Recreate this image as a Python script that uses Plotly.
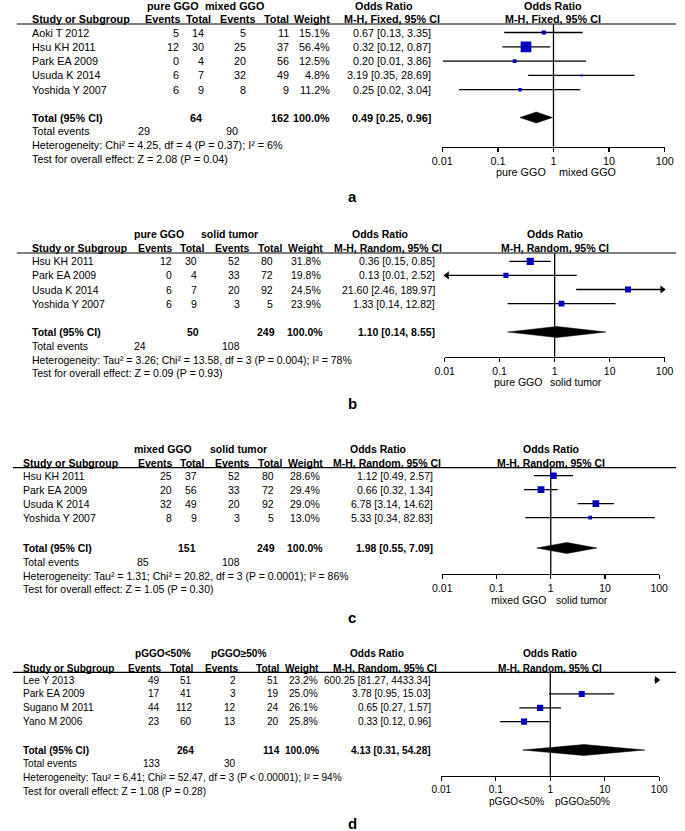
import plotly.graph_objects as go

W, H = 685, 831
FONT = "Liberation Sans, Arial, Helvetica, sans-serif"
BLUE = "#0000C8"

# ---------------- data ----------------
# panel a
a_groups = ["pure GGO", "mixed GGO"]
a_method = "M-H, Fixed, 95% CI"
a_studies = ["Aoki T 2012", "Hsu KH 2011", "Park EA 2009", "Usuda K 2014", "Yoshida Y 2007"]
a_ev1 = [5, 12, 0, 6, 6]
a_tot1 = [14, 30, 4, 7, 9]
a_ev2 = [5, 25, 20, 32, 8]
a_tot2 = [11, 37, 56, 49, 9]
a_weight = [15.1, 56.4, 12.5, 4.8, 11.2]
a_or = [0.67, 0.32, 0.20, 3.19, 0.25]
a_lo = [0.13, 0.12, 0.0102, 0.35, 0.02]
a_hi = [3.35, 0.87, 3.86, 28.69, 3.04]
a_sum = [0.49, 0.25, 0.96]
a_totals = [64, 162]
a_events = [29, 90]
a_het = "Heterogeneity: Chi² = 4.25, df = 4 (P = 0.37); I² = 6%"
a_test = "Test for overall effect: Z = 2.08 (P = 0.04)"

# panel b
b_groups = ["pure GGO", "solid tumor"]
b_method = "M-H, Random, 95% CI"
b_studies = ["Hsu KH 2011", "Park EA 2009", "Usuda K 2014", "Yoshida Y 2007"]
b_ev1 = [12, 0, 6, 6]
b_tot1 = [30, 4, 7, 9]
b_ev2 = [52, 33, 20, 3]
b_tot2 = [80, 72, 92, 5]
b_weight = [31.8, 19.8, 24.5, 23.9]
b_or = [0.36, 0.13, 21.60, 1.33]
b_lo = [0.15, 0.0068, 2.46, 0.14]
b_hi = [0.85, 2.52, 189.97, 12.82]
b_sum = [1.10, 0.14, 8.55]
b_totals = [50, 249]
b_events = [24, 108]
b_het = "Heterogeneity: Tau² = 3.26; Chi² = 13.58, df = 3 (P = 0.004); I² = 78%"
b_test = "Test for overall effect: Z = 0.09 (P = 0.93)"

# panel c
c_groups = ["mixed GGO", "solid tumor"]
c_method = "M-H, Random, 95% CI"
c_studies = ["Hsu KH 2011", "Park EA 2009", "Usuda K 2014", "Yoshida Y 2007"]
c_ev1 = [25, 20, 32, 8]
c_tot1 = [37, 56, 49, 9]
c_ev2 = [52, 33, 20, 3]
c_tot2 = [80, 72, 92, 5]
c_weight = [28.6, 29.4, 29.0, 13.0]
c_or = [1.12, 0.66, 6.78, 5.33]
c_lo = [0.49, 0.32, 3.14, 0.34]
c_hi = [2.57, 1.34, 14.62, 82.83]
c_sum = [1.98, 0.55, 7.09]
c_totals = [151, 249]
c_events = [85, 108]
c_het = "Heterogeneity: Tau² = 1.31; Chi² = 20.82, df = 3 (P = 0.0001); I² = 86%"
c_test = "Test for overall effect: Z = 1.05 (P = 0.30)"

# panel d
d_groups = ["pGGO<50%", "pGGO≥50%"]
d_method = "M-H, Random, 95% CI"
d_studies = ["Lee Y 2013", "Park EA 2009", "Sugano M 2011", "Yano M 2006"]
d_ev1 = [49, 17, 44, 23]
d_tot1 = [51, 41, 112, 60]
d_ev2 = [2, 3, 12, 13]
d_tot2 = [51, 19, 24, 20]
d_weight = [23.2, 25.0, 26.1, 25.8]
d_or = [600.25, 3.78, 0.65, 0.33]
d_lo = [81.27, 0.95, 0.27, 0.12]
d_hi = [4433.34, 15.03, 1.57, 0.96]
d_sum = [4.13, 0.31, 54.28]
d_totals = [264, 114]
d_events = [133, 30]
d_het = "Heterogeneity: Tau² = 6.41; Chi² = 52.47, df = 3 (P < 0.00001); I² = 94%"
d_test = "Test for overall effect: Z = 1.08 (P = 0.28)"

tick_vals = [0.01, 0.1, 1, 10, 100]
tick_text = ["0.01", "0.1", "1", "10", "100"]

panels = [
    dict(label="a", groups=a_groups, method=a_method, studies=a_studies, ev1=a_ev1, tot1=a_tot1,
         ev2=a_ev2, tot2=a_tot2, weight=a_weight, orr=a_or, lo=a_lo, hi=a_hi, summ=a_sum,
         totals=a_totals, events=a_events, het=a_het, test=a_test),
    dict(label="b", groups=b_groups, method=b_method, studies=b_studies, ev1=b_ev1, tot1=b_tot1,
         ev2=b_ev2, tot2=b_tot2, weight=b_weight, orr=b_or, lo=b_lo, hi=b_hi, summ=b_sum,
         totals=b_totals, events=b_events, het=b_het, test=b_test),
    dict(label="c", groups=c_groups, method=c_method, studies=c_studies, ev1=c_ev1, tot1=c_tot1,
         ev2=c_ev2, tot2=c_tot2, weight=c_weight, orr=c_or, lo=c_lo, hi=c_hi, summ=c_sum,
         totals=c_totals, events=c_events, het=c_het, test=c_test),
    dict(label="d", groups=d_groups, method=d_method, studies=d_studies, ev1=d_ev1, tot1=d_tot1,
         ev2=d_ev2, tot2=d_tot2, weight=d_weight, orr=d_or, lo=d_lo, hi=d_hi, summ=d_sum,
         totals=d_totals, events=d_events, het=d_het, test=d_test),
]

# ---------------- layout geometry (pixels) ----------------
geo = [
    dict(fs=10.8, grp=6, col=19, line=24, line_x0=6, row0=32.5, pitch=14.3, total=117.5, axis=146.7,
         letter=196, xdom=(444.3, 673.3), name_x=20.7, grp_c=(167, 230),
         hdr_r=(175, 207, 252, 287, 330), val_r=(174, 200, 243, 287, 330), tot_r=(198, 287, 330),
         ev_r=(144, 235), or_c=(384, 392), ci_r=434, sub=(-7, 5)),
    dict(fs=10.5, grp=234, col=248, line=253, line_x0=6, row0=261.3, pitch=14.1, total=332, axis=356.7,
         letter=403, xdom=(446.7, 673.3), name_x=20.7, grp_c=(152.5, 225),
         hdr_r=(168, 200, 247, 280, 322), val_r=(167, 193, 237, 271, 320), tot_r=(195, 273, 322),
         ev_r=(140, 237), or_c=(380, 388), ci_r=438, sub=(-12, -6)),
    dict(fs=10.5, grp=449.3, col=463.3, line=467.7, line_x0=2, row0=475.7, pitch=14.0, total=548, axis=574,
         letter=617, xdom=(444.3, 667.7), name_x=11.7, grp_c=(156.7, 234.7),
         hdr_r=(168, 200, 247, 280, 322), val_r=(167, 193, 237, 272, 319), tot_r=(192, 273, 322),
         ev_r=(143, 237), or_c=(377.6, 387), ci_r=436, sub=(-4, 4)),
    dict(fs=10.1, grp=653.5, col=668, line=672.3, line_x0=2, row0=680, pitch=13.9, total=750, axis=775.7,
         letter=823, xdom=(443.3, 667.7), name_x=11.7, grp_c=(157, 234.5),
         hdr_r=(156, 190, 235, 278, 318), val_r=(154, 187, 233, 277, 317), tot_r=(190, 278, 318),
         ev_r=(155, 233), or_c=(377.5, 385), ci_r=434, sub=(-5, 4)),
]


def esc(s):
    return s.replace("<", "&lt;").replace(">", "&gt;")


fig = go.Figure()
annotations = []
shapes = []


def text(x, y, s, anchor="left", bold=False, size=10.5):
    s = esc(s)
    if bold:
        s = "<b>" + s + "</b>"
    annotations.append(dict(x=x / W, y=y, xref="paper", yref="y", text=s, showarrow=False,
                            xanchor=anchor, yanchor="middle", font=dict(family=FONT, size=size, color="black"),
                            borderpad=0))


layout_axes = {}
for i, (p, g) in enumerate(zip(panels, geo)):
    ax = "x" if i == 0 else f"x{i + 1}"
    axkey = "xaxis" if i == 0 else f"xaxis{i + 1}"
    fs = g["fs"]
    x0, x1 = g["xdom"]
    dec = (x1 - x0) / 4.0
    xone = (x0 + x1) / 2.0
    layout_axes[axkey] = dict(
        type="log", domain=[x0 / W, x1 / W], range=[-2, 2], anchor="free", position=1 - g["axis"] / H,
        showline=True, linecolor="black", linewidth=1.3, ticks="outside", ticklen=4, tickwidth=1.3,
        tickcolor="black", tickvals=tick_vals, ticktext=tick_text, showgrid=False, zeroline=False,
        tickfont=dict(family=FONT, size=fs, color="black"), fixedrange=True)

    # header texts
    text(g["grp_c"][0], g["grp"], p["groups"][0], "center", bold=True, size=fs)
    text(g["grp_c"][1], g["grp"], p["groups"][1], "center", bold=True, size=fs)
    text(g["name_x"], g["col"], "Study or Subgroup", "left", bold=True, size=fs)
    for xr, s in zip(g["hdr_r"], ["Events", "Total", "Events", "Total", "Weight"]):
        text(xr, g["col"], s, "right", bold=True, size=fs)
    text(g["or_c"][0], g["grp"], "Odds Ratio", "center", bold=True, size=fs)
    text(g["or_c"][1], g["col"], p["method"], "center", bold=True, size=fs)
    text(xone, g["grp"], "Odds Ratio", "center", bold=True, size=fs)
    text(xone, g["col"], p["method"], "center", bold=True, size=fs)
    shapes.append(dict(type="line", xref="paper", yref="y", x0=g["line_x0"] / W, x1=1.0,
                       y0=g["line"], y1=g["line"], line=dict(color="black", width=1.2)))

    n = len(p["studies"])
    ys = [g["row0"] + k * g["pitch"] for k in range(n)]
    for k in range(n):
        y = ys[k]
        text(g["name_x"], y, p["studies"][k], "left", size=fs)
        vals = [str(p["ev1"][k]), str(p["tot1"][k]), str(p["ev2"][k]), str(p["tot2"][k]),
                f"{p['weight'][k]:.1f}%"]
        for xr, s in zip(g["val_r"], vals):
            text(xr, y, s, "right", size=fs)
        text(g["ci_r"], y, f"{p['orr'][k]:.2f} [{p['lo'][k]:.2f}, {p['hi'][k]:.2f}]", "right", size=fs)

    # totals
    yt = g["total"]
    text(g["name_x"], yt, "Total (95% CI)", "left", bold=True, size=fs)
    text(g["tot_r"][0], yt, str(p["totals"][0]), "right", bold=True, size=fs)
    text(g["tot_r"][1], yt, str(p["totals"][1]), "right", bold=True, size=fs)
    text(g["tot_r"][2], yt, "100.0%", "right", bold=True, size=fs)
    s0, s1, s2 = p["summ"]
    text(g["ci_r"], yt, f"{s0:.2f} [{s1:.2f}, {s2:.2f}]", "right", bold=True, size=fs)
    text(g["name_x"], yt + 13.8, "Total events", "left", size=fs)
    text(g["ev_r"][0], yt + 13.8, str(p["events"][0]), "right", size=fs)
    text(g["ev_r"][1], yt + 13.8, str(p["events"][1]), "right", size=fs)
    text(g["name_x"], yt + 27.6, p["het"], "left", size=fs)
    text(g["name_x"], yt + 41.4, p["test"], "left", size=fs)

    # axis subtitles and panel letter
    text(xone + g["sub"][0], g["axis"] + 25.5, p["groups"][0], "right", size=fs)
    text(xone + g["sub"][1], g["axis"] + 25.5, p["groups"][1], "left", size=fs)
    text(346, g["letter"], p["label"], "left", bold=True, size=15)

    # vertical line of no effect
    fig.add_trace(go.Scatter(x=[1, 1], y=[g["line"], g["axis"]], mode="lines",
                             line=dict(color="black", width=1.3), xaxis=ax, yaxis="y",
                             hoverinfo="skip", showlegend=False))

    # CI lines, squares, arrows
    tip = 10 ** (-2.5 / dec)
    for k in range(n):
        lo, hi, orr, y = p["lo"][k], p["hi"][k], p["orr"][k], ys[k]
        a = max(lo, 0.01)
        b = min(hi, 100)
        fig.add_trace(go.Scatter(x=[a, b], y=[y, y], mode="lines", line=dict(color="black", width=1.3),
                                 xaxis=ax, yaxis="y", hoverinfo="skip", showlegend=False))
        if hi > 100:
            fig.add_trace(go.Scatter(x=[100 * tip], y=[y], mode="markers",
                                     marker=dict(symbol="triangle-right", size=7, color="black"),
                                     xaxis=ax, yaxis="y", cliponaxis=False, hoverinfo="skip",
                                     showlegend=False))
        if lo < 0.01:
            fig.add_trace(go.Scatter(x=[0.01 / tip], y=[y], mode="markers",
                                     marker=dict(symbol="triangle-left", size=7, color="black"),
                                     xaxis=ax, yaxis="y", cliponaxis=False, hoverinfo="skip",
                                     showlegend=False))
        if 0.01 <= orr <= 100:
            sz = max(2.0, 0.635 * p["weight"][k] ** 0.7)
            fig.add_trace(go.Scatter(x=[orr], y=[y], mode="markers",
                                     marker=dict(symbol="square", size=sz, color=BLUE,
                                                 line=dict(width=0)),
                                     xaxis=ax, yaxis="y", hoverinfo="skip", showlegend=False))

    # summary diamond
    hh = 5.5
    fig.add_trace(go.Scatter(x=[s1, s0, s2, s0, s1], y=[yt, yt - hh, yt, yt + hh, yt], mode="lines",
                             fill="toself", fillcolor="black", line=dict(color="black", width=0.5),
                             xaxis=ax, yaxis="y", hoverinfo="skip", showlegend=False))

fig.update_layout(
    width=W, height=H, margin=dict(l=0, r=0, t=0, b=0), paper_bgcolor="white", plot_bgcolor="rgba(0,0,0,0)",
    yaxis=dict(domain=[0, 1], range=[H, 0], visible=False, fixedrange=True),
    annotations=annotations, shapes=shapes, showlegend=False, hovermode=False,
    font=dict(family=FONT, size=10.5, color="black"),
    **layout_axes,
)

fig.write_html("out.html", config={"displayModeBar": False, "staticPlot": True},
               post_script="document.body.style.margin='0px';document.body.style.padding='0px';")
